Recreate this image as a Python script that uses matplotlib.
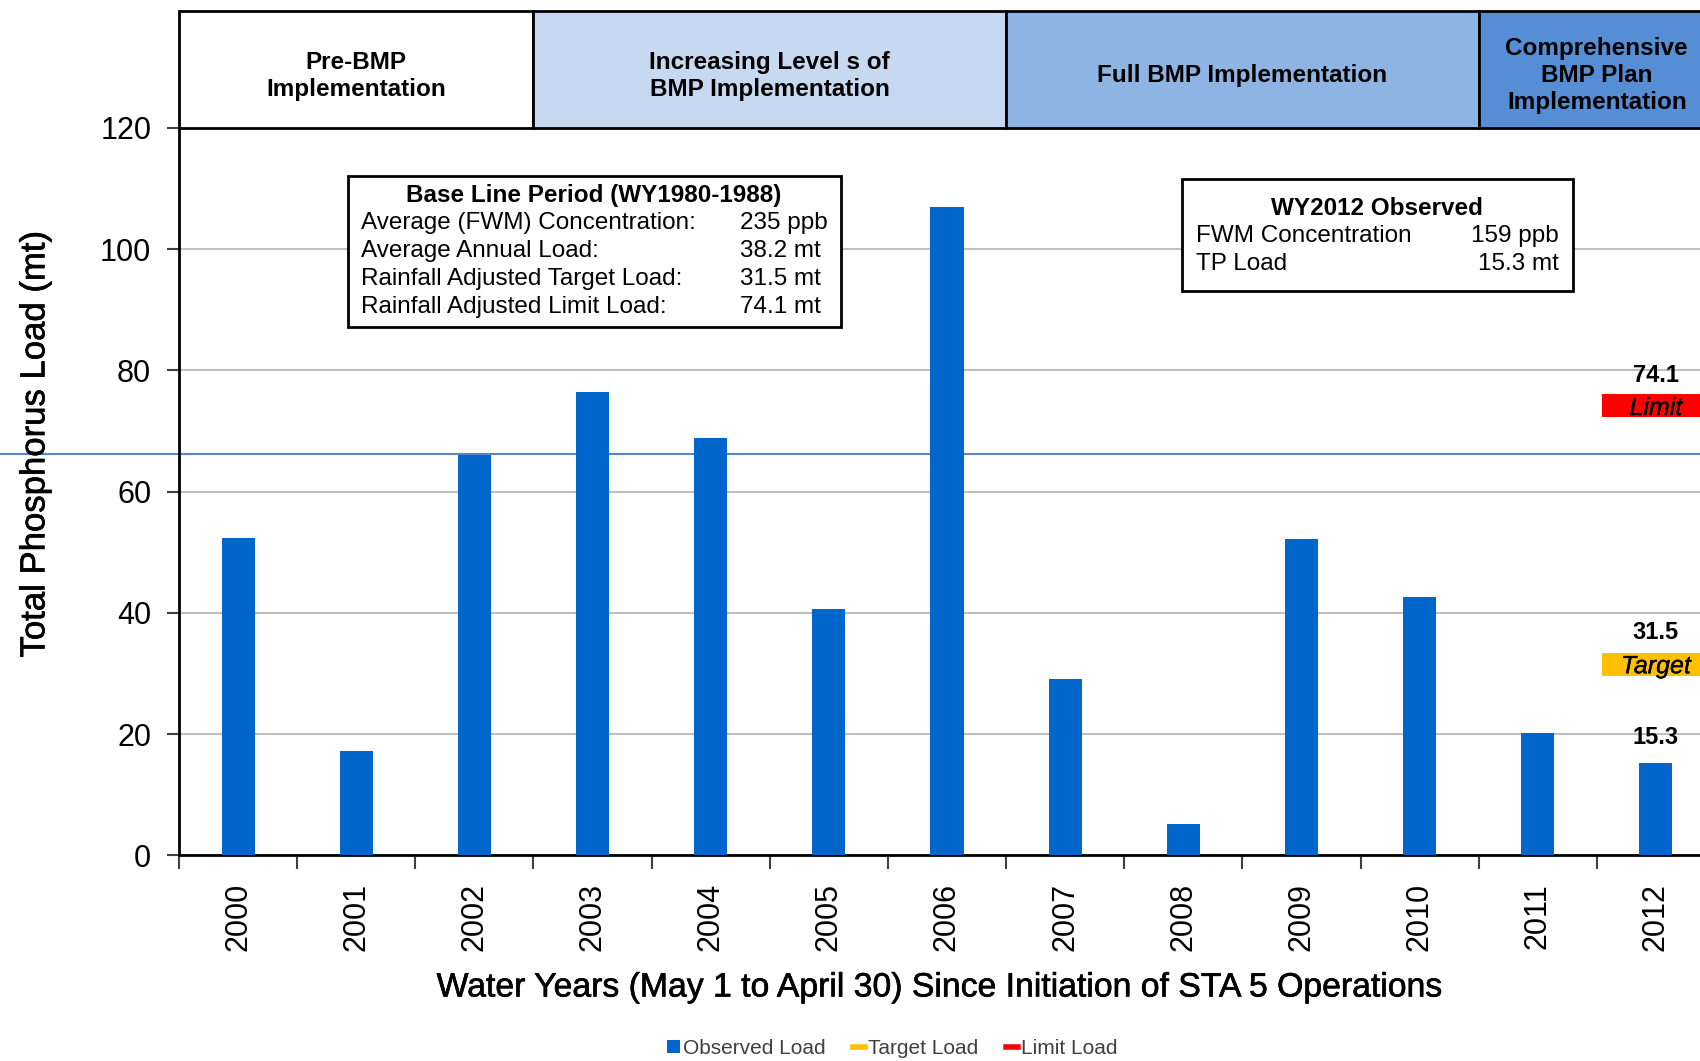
import numpy as np
import matplotlib.pyplot as plt
import matplotlib.patheffects as pe
from matplotlib.patches import Rectangle, Patch
from matplotlib.lines import Line2D

plt.rcParams['font.family'] = ['Liberation Sans', 'DejaVu Sans']

# data
years = ['2000', '2001', '2002', '2003', '2004', '2005', '2006',
         '2007', '2008', '2009', '2010', '2011', '2012']
observed_load = [52.4, 17.3, 66.0, 76.5, 68.8, 40.6, 106.9,
                 29.1, 5.2, 52.2, 42.7, 20.2, 15.3]
target_load = 31.5
limit_load = 74.1
stray_line = 66.2

period_labels = ['Pre-BMP\nImplementation',
                 'Increasing Level s of\nBMP Implementation',
                 'Full BMP Implementation',
                 'Comprehensive\nBMP Plan\nImplementation']
period_first = ['2000', '2003', '2007', '2011']
period_last = ['2002', '2006', '2010', '2012']
period_colors = ['white', '#C6D9F1', '#8EB4E3', '#558ED5']

baseline_title = 'Base Line Period (WY1980-1988)'
baseline_labels = ['Average (FWM) Concentration:', 'Average Annual Load:',
                   'Rainfall Adjusted Target Load:', 'Rainfall Adjusted Limit Load:']
baseline_values = ['235 ppb', '38.2 mt', '31.5 mt', '74.1 mt']

wy_title = 'WY2012 Observed'
wy_labels = ['FWM Concentration', 'TP Load']
wy_values = ['159 ppb', '15.3 mt']

bar_color = '#0066CC'
semi = [pe.withStroke(linewidth=0.45, foreground='black')]
thin = [pe.withStroke(linewidth=0.25, foreground='black')]

fig = plt.figure(figsize=(17, 10.61), dpi=100)
ax = fig.add_axes([0.1053, 0.1938, 0.9035, 0.6856])

x = np.arange(len(years))
ax.bar(x, observed_load, width=0.28, color=bar_color, zorder=3)
ax.set_xlim(-0.5, len(years) - 0.5)
ax.set_ylim(0, 120)

# gridlines and the odd blue line across the whole figure
ax.set_yticks(np.arange(0, 121, 20))
ax.yaxis.grid(True, color='#BFBFBF', linewidth=1.5, zorder=0)
ax.set_axisbelow(True)
ax.axhline(stray_line, xmin=-0.12, xmax=1.0, color='#5B85C8', linewidth=1.5,
           clip_on=False, zorder=1)

for s in ['top', 'right']:
    ax.spines[s].set_visible(False)
for s in ['left', 'bottom']:
    ax.spines[s].set_linewidth(2)

ax.set_xticks(np.arange(-0.5, len(years), 1.0))
ax.set_xticklabels([])
ax.set_xticks(x, minor=True)
ax.set_xticklabels(years, minor=True, rotation=90, fontsize=22)
ax.tick_params(axis='x', which='major', length=10, width=1.5, direction='out', color='#404040')
ax.tick_params(axis='x', which='minor', length=0, pad=20)
ax.tick_params(axis='y', length=9, width=1.5, pad=11, labelsize=22, color='#404040')

# period header boxes above the plot
top = 139.3
for lab, f, l, c in zip(period_labels, period_first, period_last, period_colors):
    x0 = years.index(f) - 0.5
    x1 = years.index(l) + 0.5
    ax.add_patch(Rectangle((x0, 120), x1 - x0, top - 120, facecolor=c,
                           edgecolor='black', linewidth=2, clip_on=False, zorder=4))
    ax.text((x0 + x1) / 2, (120 + top) / 2 - 1.0, lab, ha='center', va='center',
            fontsize=17.5, fontweight='bold', linespacing=1.22, zorder=5)

# base line text box
ax.add_patch(Rectangle((0.93, 87.15), 4.17, 24.9, facecolor='white',
                       edgecolor='black', linewidth=2, zorder=4))
ax.text(3.01, 108.9, baseline_title, ha='center', va='center', fontsize=17.5,
        fontweight='bold', zorder=5)
for i, (lab, val) in enumerate(zip(baseline_labels, baseline_values)):
    yy = 104.3 - i * 4.6
    ax.text(1.04, yy, lab, ha='left', va='center', fontsize=17.5, zorder=5)
    ax.text(4.25, yy, val, ha='left', va='center', fontsize=17.5, zorder=5)

# WY2012 text box
ax.add_patch(Rectangle((7.99, 93.1), 3.31, 18.5, facecolor='white',
                       edgecolor='black', linewidth=2, zorder=4))
ax.text(9.64, 106.7, wy_title, ha='center', va='center', fontsize=17.5,
        fontweight='bold', zorder=5)
for i, (lab, val) in enumerate(zip(wy_labels, wy_values)):
    yy = 102.2 - i * 4.6
    ax.text(8.11, yy, lab, ha='left', va='center', fontsize=17.5, zorder=5)
    ax.text(11.18, yy, val, ha='right', va='center', fontsize=17.5, zorder=5)

# limit / target markers on the last year
last = len(years) - 1
ax.bar(last, 3.9, bottom=limit_load - 1.85, width=0.92, color='#FF0000',
       clip_on=False, zorder=3)
ax.bar(last, 3.9, bottom=target_load - 1.95, width=0.92, color='#FFC000',
       clip_on=False, zorder=3)
ax.text(last, limit_load - 0.3, 'Limit', ha='center', va='center', fontsize=18,
        style='italic', zorder=5, path_effects=thin)
ax.text(last, target_load - 0.3, 'Target', ha='center', va='center', fontsize=18,
        style='italic', zorder=5, path_effects=thin)
ax.text(last, limit_load + 5.1, f'{limit_load:.1f}', ha='center', va='center',
        fontsize=17, fontweight='bold', zorder=5)
ax.text(last, target_load + 5.3, f'{target_load:.1f}', ha='center', va='center',
        fontsize=17, fontweight='bold', zorder=5)
ax.text(last, observed_load[-1] + 4.2, f'{observed_load[-1]:.1f}', ha='center',
        va='center', fontsize=17, fontweight='bold', zorder=5)

fig.text(0.0205, 0.5815, 'Total Phosphorus Load (mt)', rotation=90, ha='center',
         va='center', fontsize=25, path_effects=semi)
fig.text(0.5524, 0.0688, 'Water Years (May 1 to April 30) Since Initiation of STA 5 Operations',
         ha='center', va='center', fontsize=24.3, path_effects=semi)

handles = [Patch(facecolor=bar_color),
           Line2D([], [], color='#FFC000', linewidth=4),
           Line2D([], [], color='#FF0000', linewidth=4)]
fig.legend(handles, ['Observed Load', 'Target Load', 'Limit Load'], loc='center',
           bbox_to_anchor=(0.525, 0.012), ncol=3, frameon=False, fontsize=15,
           handlelength=0.6, handleheight=0.6, handletextpad=0.15, columnspacing=1.3,
           labelcolor='#404040')

fig.savefig('out.png', dpi=100)
